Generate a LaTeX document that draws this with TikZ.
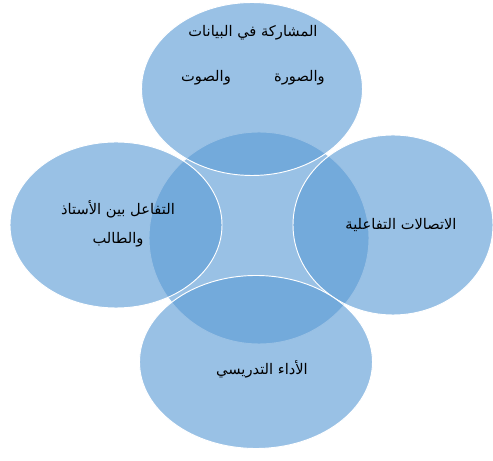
\documentclass[tikz,border=0pt]{standalone}
\usepackage{fontspec}
\newfontfamily\arabicfont[Script=Arabic]{DejaVu Sans}
\TeXXeTstate=1
\usetikzlibrary{positioning, shapes.geometric}
\definecolor{petalblue}{RGB}{91, 155, 213}

\begin{document}
\begin{tikzpicture}[
            x=0.03cm, y=-0.03cm,
            petal/.style={ellipse, draw=white, line width=0.8pt, fill=petalblue, fill opacity=0.62, inner sep=0pt},
            txt/.style={font=\arabicfont\fontsize{12.5}{25}\selectfont, text=black, align=center}
        ]
            \useasboundingbox (0,0) rectangle (493,461);

            % centre circle, mostly hidden under the four petals
            \node[petal, minimum width=6.6cm, minimum height=6.36cm] (hub) at (259,238) {};

            \node[petal, minimum width=6.63cm, minimum height=5.19cm] (top) at (252,89) {};
            \node[petal, minimum width=6.36cm, minimum height=4.98cm] (left) at (116,225) {};
            \node[petal, minimum width=6.0cm, minimum height=5.4cm] (right) at (393,225) {};
            \node[petal, minimum width=6.99cm, minimum height=5.19cm] (bottom) at (256,362) {};

            \node[txt, font=\arabicfont\fontsize{12.5}{38}\selectfont] (toptxt) at (253,55) {\beginR المشاركة في البيانات\endR\\\beginR والصورة\hspace{1.3cm}والصوت\endR};
            \node[txt] (lefttxt) at (118,224) {\beginR التفاعل بين الأستاذ\endR\\\beginR والطالب\endR};
            \node[txt] (righttxt) at (401,225) {\beginR الاتصالات التفاعلية\endR};
            \node[txt] (bottomtxt) at (262,369) {\beginR الأداء التدريسي\endR};
        \end{tikzpicture}
\end{document}
